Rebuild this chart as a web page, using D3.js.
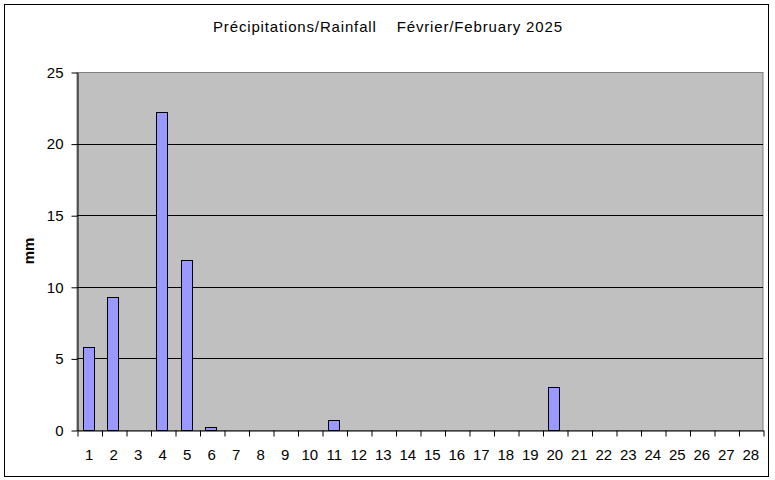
<!DOCTYPE html>
<html>
<head>
<meta charset="utf-8">
<script src="https://cdn.jsdelivr.net/npm/d3@7"></script>
<style>
  body { margin: 0; background: #fff; }
  text { font-family: "Liberation Sans", Arial, sans-serif; }
</style>
</head>
<body>
<svg></svg>
<script>
const days = d3.range(1, 29)
const rainfall = [5.8, 9.3, 0, 22.2, 11.9, 0.2, 0, 0, 0, 0, 0.7, 0, 0, 0, 0, 0, 0, 0, 0, 3.0, 0, 0, 0, 0, 0, 0, 0, 0]
const yTicks = [0, 5, 10, 15, 20, 25]
const title = 'Précipitations/Rainfall    Février/February 2025'
const yLabel = 'mm'

const width = 775
const height = 480
const margin = { top: 72, right: 12, bottom: 50, left: 77 }

const svg = d3.select('svg')
  .attr('width', width)
  .attr('height', height)
  .attr('viewBox', [0, 0, width, height])

// cadre extérieur
svg.append('rect')
  .attr('x', 4.5).attr('y', 4.5)
  .attr('width', 764).attr('height', 472)
  .attr('fill', '#fff')
  .attr('stroke', '#000')

const x = d3.scaleBand()
  .domain(days)
  .range([margin.left, width - margin.right])

const y = d3.scaleLinear()
  .domain([0, 25])
  .range([height - margin.bottom, margin.top])

// zone du graphique
svg.append('rect')
  .attr('x', margin.left).attr('y', margin.top + 0.5)
  .attr('width', width - margin.right - margin.left)
  .attr('height', height - margin.bottom - margin.top)
  .attr('fill', '#c0c0c0')
  .attr('stroke', '#808080')

// lignes de grille
svg.append('g')
  .selectAll('line')
  .data(yTicks.filter(d => d > 0 && d < 25))
  .join('line')
  .attr('x1', margin.left).attr('x2', width - margin.right)
  .attr('y1', d => Math.round(y(d)) + 0.5).attr('y2', d => Math.round(y(d)) + 0.5)
  .attr('stroke', '#000')

// barres
const bw = 11
svg.append('g')
  .selectAll('rect')
  .data(days.map((d, i) => ({ day: d, v: rainfall[i] })).filter(d => d.v > 0))
  .join('rect')
  .attr('x', d => Math.round(x(d.day) + x.bandwidth() / 2 - bw / 2) - 0.5)
  .attr('y', d => Math.round(y(d.v)) + 0.5)
  .attr('width', bw)
  .attr('height', d => y(0) - Math.round(y(d.v)))
  .attr('fill', '#9999ff')
  .attr('stroke', '#000')

// axe Y
svg.append('g')
  .attr('transform', `translate(${margin.left + 0.5},0.5)`)
  .call(d3.axisLeft(y).tickValues(yTicks).tickSize(6).tickSizeOuter(0).tickPadding(8))
  .call(g => g.selectAll('text').attr('font-size', 15).attr('fill', '#000').attr('font-family', '"Liberation Sans", Arial, sans-serif'))
  .call(g => g.selectAll('line, path').attr('stroke', '#000'))

// axe X
const xLin = d3.scaleLinear().domain([0, 28]).range([margin.left, width - margin.right])
svg.append('g')
  .attr('transform', `translate(0.5,${height - margin.bottom + 0.5})`)
  .call(d3.axisBottom(xLin).tickValues(d3.range(0, 29)).tickSize(6).tickSizeOuter(0).tickFormat(''))
  .call(g => g.selectAll('line, path').attr('stroke', '#000'))

svg.append('g')
  .selectAll('text')
  .data(days)
  .join('text')
  .attr('x', d => x(d) + x.bandwidth() / 2)
  .attr('y', height - margin.bottom + 30)
  .attr('text-anchor', 'middle')
  .attr('font-size', 15)
  .text(d => d)

// titre
svg.append('text')
  .attr('x', 213)
  .attr('y', 32)
  .attr('font-size', 15)
  .attr('textLength', 349)
  .attr('lengthAdjust', 'spacing')
  .attr('xml:space', 'preserve')
  .style('white-space', 'pre')
  .text(title)

// libellé axe Y
svg.append('text')
  .attr('transform', `translate(34,${(margin.top + height - margin.bottom) / 2}) rotate(-90)`)
  .attr('text-anchor', 'middle')
  .attr('font-size', 15)
  .attr('font-weight', 'bold')
  .text(yLabel)
</script>
</body>
</html>
